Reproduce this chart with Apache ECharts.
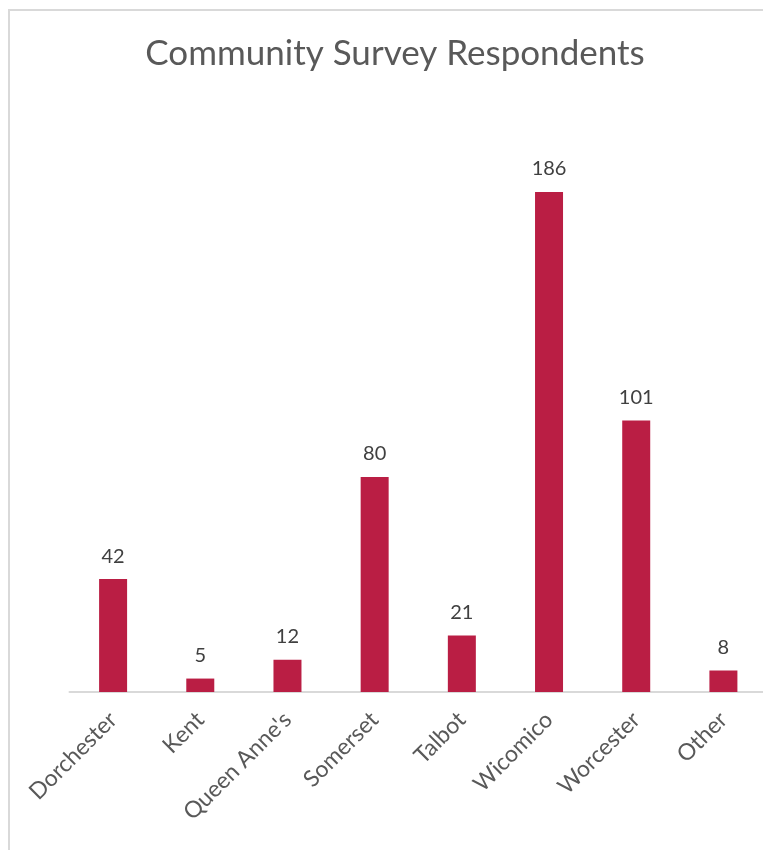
<!DOCTYPE html>
<html><head><meta charset="utf-8">
<script src="https://cdn.jsdelivr.net/npm/echarts@6/dist/echarts.min.js"></script>
<style>
html,body{margin:0;padding:0;background:#fff;overflow:hidden;width:763px;height:850px;}
#frame{position:absolute;left:8px;top:9px;width:820px;height:900px;border:2px solid #d9d9d9;box-sizing:border-box;}
#c{position:absolute;left:0;top:0;width:767px;height:850px;}
</style></head>
<body>
<div id="frame"></div>
<div id="c"></div>
<script>
const categories = ["Dorchester","Kent","Queen Anne's","Somerset","Talbot","Wicomico","Worcester","Other"];
const respondents = [42,5,12,80,21,186,101,8];
const titleText = "Community Survey Respondents";

const chart = echarts.init(document.getElementById('c'), null, {renderer:'canvas'});
chart.setOption({
  backgroundColor: 'transparent',
  animation: false,
  title: {
    text: titleText, left: 390, textAlign: 'center', top: 31,
    textStyle: {fontFamily: 'Lato', fontWeight: 'normal', fontSize: 35, color: '#595959'}
  },
  grid: {left: 69.5, right: 0, top: 154.4, bottom: 158},
  xAxis: {
    type: 'category', data: categories,
    axisLine: {lineStyle: {color: '#d9d9d9', width: 2}},
    axisTick: {show: false},
    axisLabel: {rotate: 45, margin: 24, fontFamily: 'Lato', fontSize: 23, color: '#595959'}
  },
  yAxis: {type: 'value', min: 0, max: 200, show: false, splitLine: {show: false}},
  series: [{
    type: 'bar', data: respondents, barWidth: 28,
    itemStyle: {color: '#BA1E44'},
    label: {show: true, position: 'top', distance: 13, fontFamily: 'Lato', fontSize: 20, color: '#404040'}
  }]
});
</script>
</body></html>
